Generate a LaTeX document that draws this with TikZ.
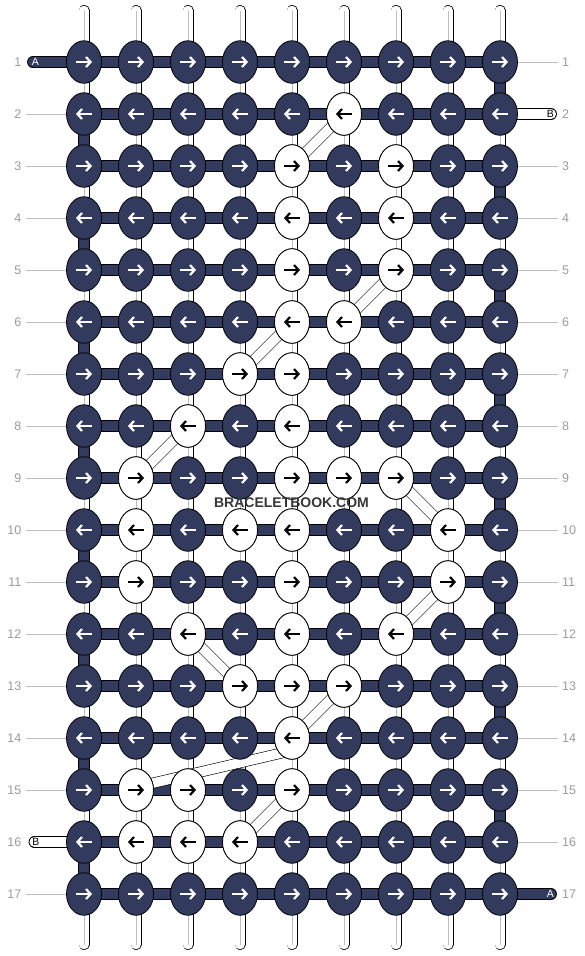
\documentclass[tikz,border=0pt]{standalone}
\usepackage{fontspec}
\setmainfont{Liberation Sans}
\usetikzlibrary{arrows.meta,shapes.geometric,backgrounds}
\definecolor{knotnavy}{HTML}{323B5E}
\definecolor{numgray}{HTML}{9A9A9A}
\definecolor{guidegray}{HTML}{BEBEBE}
\definecolor{markgray}{HTML}{363636}

\tikzset{
  knot/.style={ellipse, draw=black, line width=0.8pt, fill=knotnavy,
    minimum width=35pt, minimum height=42.5pt, inner sep=0pt},
  wknot/.style={knot, fill=white},
  arr/.style={line width=2.2pt, -{Straight Barb[length=4.5pt,width=10pt]}},
  bar/.style={draw=black, line width=0.8pt, double=knotnavy, double distance=10.2pt},
  wbar/.style={bar, double=white},
  warp/.style={draw=black, line width=0.7pt, double=white, double distance=9.6pt, line cap=round},
  strip/.style={draw=black, line width=0.6pt, double=white, double distance=9.6pt},
  guide/.style={guidegray, line width=1pt},
  rownum/.style={text=numgray, font=\fontsize{12.5}{14}\selectfont, inner sep=0pt},
  tag/.style={font=\fontsize{10.5}{12}\selectfont, inner sep=0pt},
}

\begin{document}
\begin{tikzpicture}[x=1pt,y=-1pt]
  \useasboundingbox (0,0) rectangle (584,956);

  % Knots: odd rows point right, even rows point left
  \foreach \r in {1,...,17} {
    \pgfmathsetmacro\xs{ifthenelse(mod(\r,2)==1,-8,8)}
    \pgfmathsetmacro\xe{ifthenelse(mod(\r,2)==1,8,-8)}
    \foreach \c in {1,...,9} {
      \node[knot] (k-\r-\c) at ({84+52*(\c-1)},{62+52*(\r-1)}) {};
      \draw[arr, white] ([xshift=\xs]k-\r-\c.center) -- ([xshift=\xe]k-\r-\c.center);
    }
  }

  % White knots
  \foreach \r/\c in {2/6, 3/5, 3/7, 4/5, 4/7, 5/5, 5/7, 6/5, 6/6, 7/4, 7/5,
      8/3, 8/5, 9/2, 9/5, 9/6, 9/7, 10/2, 10/4, 10/5, 10/8, 11/2, 11/5, 11/8,
      12/3, 12/5, 12/7, 13/4, 13/5, 13/6, 14/5, 15/2, 15/3, 15/5,
      16/2, 16/3, 16/4} {
    \pgfmathsetmacro\xs{ifthenelse(mod(\r,2)==1,-8,8)}
    \pgfmathsetmacro\xe{ifthenelse(mod(\r,2)==1,8,-8)}
    \node[wknot] (k-\r-\c) at ({84+52*(\c-1)},{62+52*(\r-1)}) {};
    \draw[arr, black] ([xshift=\xs]k-\r-\c.center) -- ([xshift=\xe]k-\r-\c.center);
  }

  % Row numbers
  \foreach \r in {1,...,17} {
    \node[rownum, anchor=east] (nl-\r) at (21.5,{62+52*(\r-1)}) {\r};
    \node[rownum, anchor=west] (nr-\r) at (562,{62+52*(\r-1)}) {\r};
  }

  \node[font=\bfseries\fontsize{14}{16}\selectfont, text=markgray] (mark) at (291.5,503) {BRACELETBOOK.COM};

  % Thread letters
  \node[tag, text=white] (tag-A1) at (35.5,62) {A};
  \node[tag] (tag-B1) at (35.8,842) {B};
  \node[tag] (tag-B2) at (550.3,114) {B};
  \node[tag, text=white] (tag-A2) at (550.3,894) {A};

  \begin{pgfonlayer}{background}
    % warp threads
    \foreach \c in {1,...,9} {
      \coordinate (top-\c) at ({84+52*(\c-1)},10.5);
      \coordinate (bot-\c) at ({84+52*(\c-1)},944.5);
      \draw[warp] (top-\c) -- (bot-\c);
      \draw[guide, line width=0.8pt] (top-\c) -- (bot-\c);
    }
    % rows
    \foreach \r in {1,...,17}
      \draw[bar] (k-\r-1.center) -- (k-\r-9.center);
    % turns of the dark thread at the edges
    \foreach \r [evaluate=\r as \s using int(\r+1)] in {2,4,...,16}
      \draw[bar] (k-\r-1.center) -- (k-\s-1.center);
    \foreach \r [evaluate=\r as \s using int(\r+1)] in {1,3,...,15}
      \draw[bar] (k-\r-9.center) -- (k-\s-9.center);

    % loose ends
    \coordinate (endA-in) at (33,62);
    \coordinate (endB-in) at (34.5,842);
    \coordinate (endB-out) at (551,114);
    \coordinate (endA-out) at (551,894);
    \draw[bar, line cap=round] (endA-in) -- (k-1-1.center);
    \draw[wbar, line cap=round] (endB-in) -- (k-16-1.center);
    \draw[wbar, line cap=round] (k-2-9.center) -- (endB-out);
    \draw[bar, line cap=round] (k-17-9.center) -- (endA-out);

    % guide lines to the numbers
    \foreach \r in {2,...,15,17} {
      \coordinate (gl-\r) at (26,{62+52*(\r-1)});
      \draw[guide] (gl-\r) -- (k-\r-1.center);
    }
    \foreach \r in {1,3,4,...,16} {
      \coordinate (gr-\r) at (558,{62+52*(\r-1)});
      \draw[guide] (k-\r-9.center) -- (gr-\r);
    }

    % white thread skipping across
    \foreach \a/\b in {2-6/3-5, 5-7/6-6, 6-5/7-4, 8-3/9-2, 9-7/10-8,
        11-8/12-7, 12-3/13-4, 13-6/14-5, 15-5/16-4}
      \draw[strip] (k-\a.center) -- (k-\b.center);
    \draw[strip] ([shift={(4,-3.9)}]k-15-2.center) -- ([shift={(-4,13.5)}]k-14-5.center);
  \end{pgfonlayer}
\end{tikzpicture}
\end{document}
